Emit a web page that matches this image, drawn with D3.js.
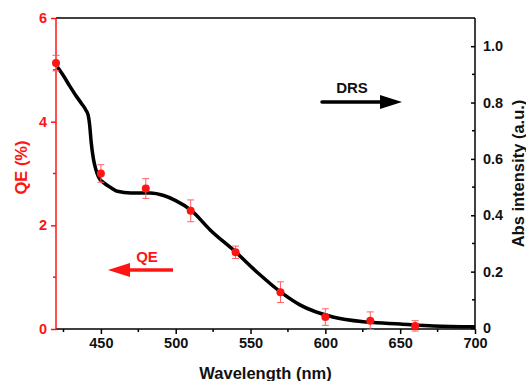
<!DOCTYPE html>
<html>
<head>
<meta charset="utf-8">
<script src="https://cdn.jsdelivr.net/npm/d3@7"></script>
<style>
	body { margin: 0; background: #fff; }
	text { font-family: "Liberation Sans", Arial, sans-serif; font-weight: bold; }
</style>
</head>
<body>
<svg width="526" height="381"></svg>
<script>
// QE measurements (left axis)
var qe_wavelength = [420, 450, 480, 510, 540, 570, 600, 630, 660];
var qe_value = [5.13, 3.0, 2.71, 2.28, 1.48, 0.71, 0.23, 0.16, 0.06];
var qe_error = [0.15, 0.17, 0.19, 0.21, 0.12, 0.2, 0.16, 0.17, 0.1];

// DRS absorption spectrum (right axis)
var drs_wavelength = [421, 425, 429, 433, 437, 440, 441.5, 442.5, 443.5, 445, 446.5, 448.5, 452, 457, 461, 470, 483, 492, 500, 510, 523, 540, 555, 570, 583, 605, 628, 650, 672, 700];
var drs_abs = [0.926, 0.895, 0.86, 0.827, 0.797, 0.773, 0.755, 0.72, 0.66, 0.6, 0.565, 0.535, 0.515, 0.497, 0.485, 0.479, 0.479, 0.47, 0.452, 0.419, 0.348, 0.27, 0.195, 0.128, 0.082, 0.039, 0.021, 0.014, 0.007, 0.004];

var x_ticks = [450, 500, 550, 600, 650, 700];
var qe_ticks = [0, 2, 4, 6];
var abs_ticks = [0, 0.2, 0.4, 0.6, 0.8, 1.0];

var red = '#ff1414';
var margin = { left: 56, right: 475, top: 18, bottom: 329 };

var svg = d3.select('svg');

var x = d3.scaleLinear().domain([420, 700]).range([margin.left, margin.right]);
var y_qe = d3.scaleLinear().domain([0, 6]).range([margin.bottom, margin.top]);
var y_abs = d3.scaleLinear().domain([0, 1.1]).range([margin.bottom - 1, margin.top]);

// Frame: top line
svg.append('line')
	.attr('x1', margin.left).attr('x2', margin.right)
	.attr('y1', margin.top).attr('y2', margin.top)
	.attr('stroke', '#000').attr('stroke-width', 1.5);

// Bottom axis
var x_axis = svg.append('g')
	.attr('transform', 'translate(0,' + margin.bottom + ')')
	.call(d3.axisBottom(x).tickValues(x_ticks).tickSize(5).tickPadding(4).tickFormat(d3.format('d')));
x_axis.append('g').selectAll('line')
	.data(d3.range(425, 700, 50))
	.enter().append('line')
	.attr('x1', d => x(d)).attr('x2', d => x(d))
	.attr('y1', 0).attr('y2', 3)
	.attr('stroke', '#000').attr('stroke-width', 1.5);
x_axis.select('.domain').attr('stroke-width', 1.5).attr('d', 'M' + margin.left + ',0H' + margin.right);
x_axis.selectAll('.tick line').attr('stroke-width', 1.5);
x_axis.selectAll('text').attr('font-size', 14.5).attr('fill', '#111');

// Left axis (QE)
var left_axis = svg.append('g')
	.attr('transform', 'translate(' + margin.left + ',0)')
	.call(d3.axisLeft(y_qe).tickValues(qe_ticks).tickSize(5).tickPadding(4).tickFormat(d3.format('d')));
left_axis.append('g').selectAll('line')
	.data([1, 3, 5])
	.enter().append('line')
	.attr('y1', d => y_qe(d)).attr('y2', d => y_qe(d))
	.attr('x1', 0).attr('x2', -3)
	.attr('stroke', red).attr('stroke-width', 1.5);
left_axis.select('.domain').attr('stroke', red).attr('stroke-width', 1.5).attr('d', 'M0,' + margin.top + 'V' + margin.bottom);
left_axis.selectAll('.tick line').attr('stroke', red).attr('stroke-width', 1.5);
left_axis.selectAll('text').attr('font-size', 14.5).attr('fill', red);

// Right axis (Abs), ticks inward
var right_axis = svg.append('g')
	.attr('transform', 'translate(' + margin.right + ',0)')
	.call(d3.axisRight(y_abs).tickValues(abs_ticks).tickSize(-4).tickPadding(8)
		.tickFormat(d => d === 0 ? '0' : d3.format('.1f')(d)));
right_axis.append('g').selectAll('line')
	.data([0.1, 0.3, 0.5, 0.7, 0.9])
	.enter().append('line')
	.attr('y1', d => y_abs(d)).attr('y2', d => y_abs(d))
	.attr('x1', 0).attr('x2', -3)
	.attr('stroke', '#000').attr('stroke-width', 1.5);
right_axis.select('.domain').attr('stroke-width', 1.5).attr('d', 'M0,' + margin.top + 'V' + margin.bottom);
right_axis.selectAll('.tick line').attr('stroke-width', 1.5);
right_axis.selectAll('text').attr('font-size', 14.5).attr('fill', '#111');

// DRS curve
var line = d3.line()
	.x((d, i) => x(drs_wavelength[i]))
	.y(d => y_abs(d))
	.curve(d3.curveMonotoneX);
svg.append('path')
	.datum(drs_abs)
	.attr('d', line)
	.attr('fill', 'none')
	.attr('stroke', '#000')
	.attr('stroke-width', 3.5)
	.attr('stroke-linejoin', 'round');

// QE error bars and points
var qe = svg.append('g').selectAll('g')
	.data(qe_value.map((v, i) => { return { w: qe_wavelength[i], v: v, e: qe_error[i] }; }))
	.enter().append('g');
qe.append('line')
	.attr('x1', d => x(d.w)).attr('x2', d => x(d.w))
	.attr('y1', d => y_qe(d.v - d.e)).attr('y2', d => y_qe(d.v + d.e))
	.attr('stroke', '#ff6060').attr('stroke-width', 1);
qe.selectAll('.cap')
	.data(d => [d.v - d.e, d.v + d.e].map(c => { return { w: d.w, c: c }; }))
	.enter().append('line')
	.attr('x1', d => x(d.w) - 3.5).attr('x2', d => x(d.w) + 3.5)
	.attr('y1', d => y_qe(d.c)).attr('y2', d => y_qe(d.c))
	.attr('stroke', '#ff6060').attr('stroke-width', 1);
qe.append('circle')
	.attr('cx', d => x(d.w)).attr('cy', d => y_qe(d.v))
	.attr('r', 4)
	.attr('fill', red);

// Axis titles
svg.append('text')
	.attr('transform', 'translate(27,' + ((margin.top + margin.bottom) / 2 - 6) + ') rotate(-90)')
	.attr('text-anchor', 'middle')
	.attr('font-size', 16.5)
	.attr('fill', red)
	.text('QE (%)');
svg.append('text')
	.attr('transform', 'translate(524,' + ((margin.top + margin.bottom) / 2) + ') rotate(-90)')
	.attr('text-anchor', 'middle')
	.attr('font-size', 16.5)
	.attr('fill', '#111')
	.text('Abs intensity (a.u.)');
svg.append('text')
	.attr('x', (margin.left + margin.right) / 2)
	.attr('y', 379)
	.attr('text-anchor', 'middle')
	.attr('font-size', 16.5)
	.attr('fill', '#111')
	.text('Wavelength (nm)');

// Annotations with arrows
svg.append('text').attr('x', 352).attr('y', 93).attr('text-anchor', 'middle')
	.attr('font-size', 15).attr('fill', '#111').text('DRS');
svg.append('line').attr('x1', 322).attr('x2', 386).attr('y1', 102).attr('y2', 102)
	.attr('stroke', '#000').attr('stroke-width', 3.5).attr('stroke-linecap', 'round');
svg.append('path').attr('d', 'M380,95L402,102L380,109Z').attr('fill', '#000');

svg.append('text').attr('x', 147).attr('y', 262).attr('text-anchor', 'middle')
	.attr('font-size', 15).attr('fill', red).text('QE');
svg.append('line').attr('x1', 124).attr('x2', 173).attr('y1', 270).attr('y2', 270)
	.attr('stroke', red).attr('stroke-width', 3.5);
svg.append('path').attr('d', 'M130,263L108,270L130,277Z').attr('fill', red);
</script>
</body>
</html>
